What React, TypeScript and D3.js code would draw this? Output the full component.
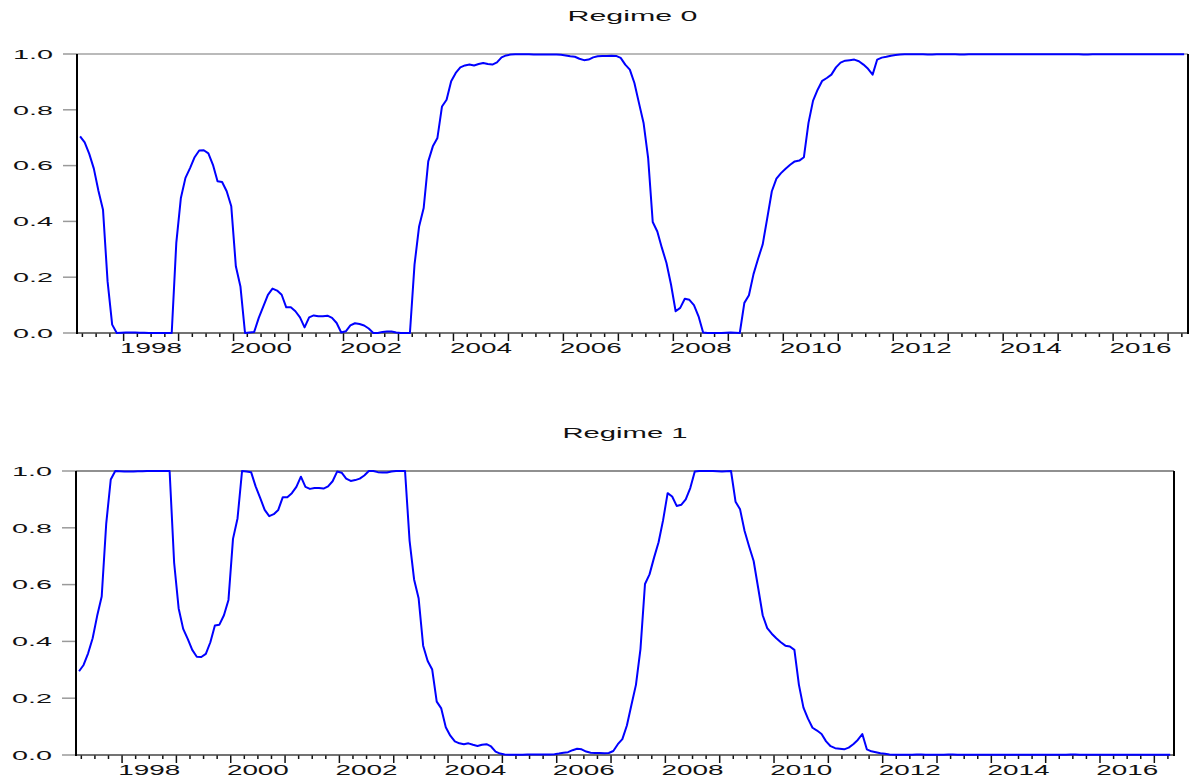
import React from 'react';
import * as d3 from 'd3';

// Monthly filtered probabilities, March 1997 .. April 2017
const startYear = 1997;
const startMonth = 3;

const regime0: number[] = [
  0.705, 0.683, 0.642, 0.589, 0.510, 0.442, 0.185, 0.030, 0.000, 0.001,
  0.002, 0.002, 0.002, 0.001, 0.001, 0.000, 0.000, 0.000, 0.000, 0.000,
  0.000, 0.323, 0.484, 0.556, 0.591, 0.630, 0.654, 0.655, 0.644, 0.603,
  0.544, 0.541, 0.508, 0.454, 0.239, 0.167, 0.000, 0.002, 0.004, 0.054,
  0.095, 0.137, 0.159, 0.152, 0.137, 0.092, 0.092, 0.078, 0.056, 0.020,
  0.056, 0.063, 0.060, 0.060, 0.062, 0.054, 0.036, 0.002, 0.006, 0.027,
  0.035, 0.032, 0.027, 0.016, 0.000, 0.000, 0.004, 0.005, 0.005, 0.002,
  0.000, 0.000, 0.000, 0.245, 0.382, 0.448, 0.615, 0.669, 0.699, 0.812,
  0.836, 0.902, 0.932, 0.952, 0.959, 0.962, 0.959, 0.964, 0.968, 0.964,
  0.962, 0.970, 0.988, 0.995, 0.998, 0.999, 0.999, 0.999, 0.999, 0.998,
  0.998, 0.998, 0.998, 0.998, 0.998, 0.997, 0.995, 0.992, 0.990, 0.983,
  0.978, 0.980, 0.988, 0.992, 0.993, 0.993, 0.994, 0.993, 0.986, 0.962,
  0.944, 0.896, 0.824, 0.753, 0.627, 0.398, 0.364, 0.305, 0.251, 0.173,
  0.078, 0.090, 0.123, 0.119, 0.100, 0.060, 0.002, 0.000, 0.000, 0.000,
  0.000, 0.001, 0.002, 0.001, 0.000, 0.108, 0.135, 0.211, 0.266, 0.317,
  0.412, 0.508, 0.553, 0.573, 0.589, 0.603, 0.615, 0.618, 0.630, 0.753,
  0.833, 0.872, 0.904, 0.914, 0.926, 0.952, 0.969, 0.976, 0.978, 0.980,
  0.974, 0.962, 0.947, 0.926, 0.980, 0.987, 0.990, 0.994, 0.996, 0.998,
  0.999, 0.999, 0.999, 0.999, 0.999, 0.998, 0.998, 0.999, 0.999, 0.999,
  0.999, 0.999, 0.998, 0.998, 0.999, 0.999, 0.999, 0.999, 0.999, 0.999,
  0.999, 0.999, 0.999, 0.999, 0.999, 0.999, 0.999, 0.999, 0.999, 0.999,
  0.999, 0.999, 0.999, 0.999, 0.999, 0.999, 0.999, 0.999, 0.999, 0.998,
  0.998, 0.999, 0.999, 0.999, 0.999, 0.999, 0.999, 0.999, 0.999, 0.999,
  0.999, 0.999, 0.999, 0.999, 0.999, 0.999, 0.999, 0.999, 0.999, 0.999,
  0.999, 0.999,
];

const regime1: number[] = [
  0.295, 0.317, 0.358, 0.411, 0.490, 0.558, 0.815, 0.970, 1.000, 0.999,
  0.998, 0.998, 0.998, 0.999, 0.999, 1.000, 1.000, 1.000, 1.000, 1.000,
  1.000, 0.677, 0.516, 0.444, 0.409, 0.370, 0.346, 0.345, 0.356, 0.397,
  0.456, 0.459, 0.492, 0.546, 0.761, 0.833, 1.000, 0.998, 0.996, 0.946,
  0.905, 0.863, 0.841, 0.848, 0.863, 0.908, 0.908, 0.922, 0.944, 0.980,
  0.944, 0.937, 0.940, 0.940, 0.938, 0.946, 0.964, 0.998, 0.994, 0.973,
  0.965, 0.968, 0.973, 0.984, 1.000, 1.000, 0.996, 0.995, 0.995, 0.998,
  1.000, 1.000, 1.000, 0.755, 0.618, 0.552, 0.385, 0.331, 0.301, 0.188,
  0.164, 0.098, 0.068, 0.048, 0.041, 0.038, 0.041, 0.036, 0.032, 0.036,
  0.038, 0.030, 0.012, 0.005, 0.002, 0.001, 0.001, 0.001, 0.001, 0.002,
  0.002, 0.002, 0.002, 0.002, 0.002, 0.003, 0.005, 0.008, 0.010, 0.017,
  0.022, 0.020, 0.012, 0.008, 0.007, 0.007, 0.006, 0.007, 0.014, 0.038,
  0.056, 0.104, 0.176, 0.247, 0.373, 0.602, 0.636, 0.695, 0.749, 0.827,
  0.922, 0.910, 0.877, 0.881, 0.900, 0.940, 0.998, 1.000, 1.000, 1.000,
  1.000, 0.999, 0.998, 0.999, 1.000, 0.892, 0.865, 0.789, 0.734, 0.683,
  0.588, 0.492, 0.447, 0.427, 0.411, 0.397, 0.385, 0.382, 0.370, 0.247,
  0.167, 0.128, 0.096, 0.086, 0.074, 0.048, 0.031, 0.024, 0.022, 0.020,
  0.026, 0.038, 0.053, 0.074, 0.020, 0.013, 0.010, 0.006, 0.004, 0.002,
  0.001, 0.001, 0.001, 0.001, 0.001, 0.002, 0.002, 0.001, 0.001, 0.001,
  0.001, 0.001, 0.002, 0.002, 0.001, 0.001, 0.001, 0.001, 0.001, 0.001,
  0.001, 0.001, 0.001, 0.001, 0.001, 0.001, 0.001, 0.001, 0.001, 0.001,
  0.001, 0.001, 0.001, 0.001, 0.001, 0.001, 0.001, 0.001, 0.001, 0.002,
  0.002, 0.001, 0.001, 0.001, 0.001, 0.001, 0.001, 0.001, 0.001, 0.001,
  0.001, 0.001, 0.001, 0.001, 0.001, 0.001, 0.001, 0.001, 0.001, 0.001,
  0.001, 0.001,
];

const yTicks = [0, 0.2, 0.4, 0.6, 0.8, 1.0];
const yearLabels = [1998, 2000, 2002, 2004, 2006, 2008, 2010, 2012, 2014, 2016];
const titles = ['Regime 0', 'Regime 1'];

const FONT = "'Liberation Sans', Arial, Helvetica, sans-serif";
const DOMAIN: [number, number] = [1997.152, 2017.362];

type PanelProps = {
  title: string;
  values: number[];
  left: number;
  right: number;
  top: number;
  bottom: number;
  titleWidth: number;
  topStroke: string;
};

function Panel({ title, values, left, right, top, bottom, titleWidth, topStroke }: PanelProps) {
  const x = d3.scaleLinear().domain(DOMAIN).range([left, right]);
  const y = d3.scaleLinear().domain([0, 1]).range([bottom, top]);
  const line = d3
    .line<number>()
    .x((_, i) => x(startYear + (startMonth - 1 + i + 0.5) / 12))
    .y((d) => y(d));

  const quarters = d3
    .range(Math.ceil(DOMAIN[0] * 4), Math.floor(DOMAIN[1] * 4) + 1)
    .map((q) => q / 4);

  const fmt = d3.format('.1f');
  const labelW = 62;
  const yLabW = 40;

  return (
    <g>
      {/* title */}
      <text
        x={(left + right) / 2 - titleWidth / 2}
        y={top - 33}
        fontFamily={FONT}
        fontSize={15}
        fill="#111"
        textLength={titleWidth}
        lengthAdjust="spacingAndGlyphs"
      >
        {title}
      </text>

      {/* y ticks and labels */}
      {yTicks.map((t) => (
        <g key={t}>
          <line x1={left - 14} x2={left} y1={y(t)} y2={y(t)} stroke="#9a9a9a" strokeWidth={1.5} />
          <text
            x={left - 24 - yLabW}
            y={y(t) + 4.8}
            fontFamily={FONT}
            fontSize={13.5}
            fill="#111"
            textLength={yLabW}
            lengthAdjust="spacingAndGlyphs"
          >
            {fmt(t)}
          </text>
        </g>
      ))}

      {/* x ticks */}
      {quarters.map((q) => {
        const major = Math.abs(q - Math.round(q)) < 1e-9;
        return (
          <line
            key={q}
            x1={x(q)}
            x2={x(q)}
            y1={bottom}
            y2={bottom + (major ? 8 : 4)}
            stroke="#111"
            strokeWidth={1.5}
          />
        );
      })}
      {yearLabels.map((yr) => (
        <text
          key={yr}
          x={x(yr + 0.5) - labelW / 2}
          y={bottom + 20}
          fontFamily={FONT}
          fontSize={14}
          fill="#111"
          textLength={labelW}
          lengthAdjust="spacingAndGlyphs"
        >
          {yr}
        </text>
      ))}

      {/* frame */}
      <line x1={left} x2={right} y1={top} y2={top} stroke={topStroke} strokeWidth={1.2} />
      <line x1={left} x2={right} y1={bottom} y2={bottom} stroke="#444" strokeWidth={1.5} />
      <line x1={left} x2={left} y1={top} y2={bottom + 1} stroke="#000" strokeWidth={2} />
      <line x1={right} x2={right} y1={top} y2={bottom + 1} stroke="#000" strokeWidth={2} />

      {/* series */}
      <path d={line(values) || ''} fill="none" stroke="#0000ff" strokeWidth={2} strokeLinejoin="round" />
    </g>
  );
}

export default function App() {
  return (
    <svg
      width={1196}
      height={782}
      style={{ position: 'absolute', left: 0, top: 0, background: '#fff' }}
    >
      <rect x={0} y={0} width={1196} height={782} fill="#fff" />
      <Panel
        title={titles[0]}
        values={regime0}
        left={77}
        right={1188}
        top={54}
        bottom={333}
        titleWidth={130}
        topStroke="#777"
      />
      <Panel
        title={titles[1]}
        values={regime1}
        left={76}
        right={1174}
        top={471}
        bottom={755}
        titleWidth={125}
        topStroke="#222"
      />
    </svg>
  );
}
